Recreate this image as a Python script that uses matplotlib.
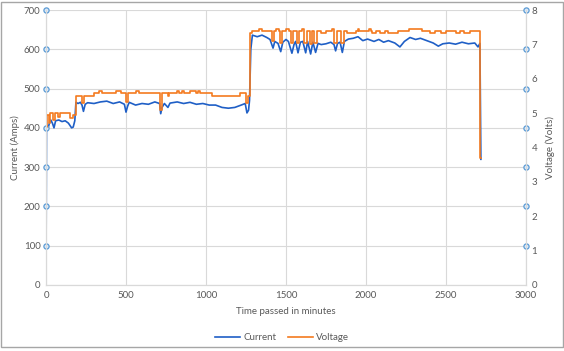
import matplotlib
matplotlib.use("Agg")
import matplotlib.pyplot as plt
from matplotlib.patches import Rectangle

# =========================
# DATA
# =========================
cur_time = [0, 3, 10, 20, 30, 40, 50, 60, 80, 100, 120, 140, 160, 170, 180,
            187, 200, 215, 225, 234, 245, 260, 300, 340, 380, 420, 460, 490,
            500, 510, 520, 560, 600, 640, 680, 710, 717, 725, 740, 762, 775,
            820, 860, 900, 940, 980, 1020, 1060, 1100, 1140, 1180, 1220, 1245,
            1256, 1266, 1272, 1280, 1290, 1320, 1350, 1380, 1400, 1419, 1430,
            1450, 1467, 1480, 1500, 1515, 1537, 1550, 1560, 1575, 1590, 1605,
            1623, 1635, 1654, 1668, 1685, 1700, 1720, 1750, 1780, 1800, 1810,
            1822, 1838, 1852, 1865, 1890, 1920, 1950, 1980, 2010, 2050, 2080,
            2110, 2140, 2180, 2212, 2240, 2275, 2310, 2340, 2380, 2420, 2452,
            2480, 2520, 2560, 2600, 2640, 2680, 2700, 2712, 2718]
current = [0, 400, 395, 410, 420, 412, 400, 418, 420, 416, 418, 412, 400, 402, 418,
           465, 462, 465, 458, 442, 460, 464, 462, 466, 468, 462, 466, 460,
           440, 455, 465, 458, 462, 460, 466, 462, 436, 452, 462, 452, 463,
           466, 462, 465, 460, 462, 458, 458, 452, 450, 452, 458, 462,
           438, 445, 470, 600, 636, 632, 636, 630, 625, 603, 620,
           615, 594, 618, 625, 620, 590, 612, 620, 591, 618, 620,
           591, 620, 588, 618, 592, 615, 612, 614, 618, 612, 596,
           615, 618, 592, 620, 626, 628, 632, 622, 626, 620, 625,
           618, 622, 616, 606, 620, 630, 625, 628, 622, 616, 608,
           614, 616, 613, 618, 614, 616, 606, 615, 320]

volt_time = [0, 3, 8, 20, 28, 45, 55, 75, 90, 150, 170, 185, 205, 225, 240,
             300, 330, 350, 440, 470, 498, 512, 560, 580, 712, 728, 760, 770,
             820, 830, 850, 860, 900, 940, 950, 960, 1035, 1210, 1248, 1262,
             1276, 1290, 1330, 1350, 1410, 1428, 1440, 1455, 1460, 1475, 1500,
             1520, 1530, 1545, 1568, 1582, 1600, 1615, 1630, 1648, 1662, 1678,
             1692, 1720, 1750, 1790, 1802, 1818, 1845, 1860, 1880, 1940, 1950,
             1958, 2020, 2030, 2040, 2060, 2090, 2120, 2140, 2200, 2270, 2350,
             2400, 2430, 2470, 2500, 2560, 2590, 2610, 2650, 2715, 2718]
voltage = [0, 4.6, 4.95, 4.7, 5.0, 4.8, 5.0, 4.9, 5.0, 4.85, 4.95, 5.5, 5.5, 5.3, 5.5,
           5.6, 5.64, 5.6, 5.64, 5.6, 5.33, 5.6, 5.64, 5.6, 5.1, 5.6, 5.5, 5.6,
           5.64, 5.6, 5.64, 5.6, 5.64, 5.6, 5.64, 5.6, 5.5, 5.6, 5.3, 5.5,
           7.33, 7.38, 7.45, 7.38, 7.1, 7.38, 7.45, 7.38, 7.05, 7.38, 7.45,
           7.38, 7.05, 7.38, 7.05, 7.38, 7.45, 7.05, 7.38, 7.0, 7.38, 7.05,
           7.38, 7.34, 7.38, 7.45, 7.05, 7.38, 7.05, 7.38, 7.33, 7.38, 7.45,
           7.38, 7.45, 7.38, 7.32, 7.38, 7.32, 7.38, 7.32, 7.38, 7.45, 7.38,
           7.32, 7.38, 7.32, 7.38, 7.32, 7.38, 7.32, 7.38, 3.7, 3.7]

x_ticks = [0, 500, 1000, 1500, 2000, 2500, 3000]
left_ticks = [0, 100, 200, 300, 400, 500, 600, 700]
right_ticks = [0, 1, 2, 3, 4, 5, 6, 7, 8]

# =========================
# FIGURE
# =========================
plt.rcParams['font.family'] = ['Lato', 'DejaVu Sans']
TXT = '#595959'
GRID = '#d9d9d9'
BLUE = '#1f5fc6'
ORANGE = '#f47a1f'

fig = plt.figure(figsize=(5.64, 3.51), dpi=100)
ax = fig.add_axes([46 / 564, 66 / 351, 480 / 564, 275 / 351])
ax2 = ax.twinx()

ax.plot(cur_time, current, color=BLUE, lw=1.2, label='Current')
ax2.plot(volt_time, voltage, color=ORANGE, lw=1.2, drawstyle='steps-post', label='Voltage')

ax.set_xlim(0, 3000)
ax.set_ylim(0, 700)
ax2.set_ylim(0, 8)
ax.set_xticks(x_ticks)
ax.set_yticks(left_ticks)
ax2.set_yticks(right_ticks)

ax.grid(True, color=GRID, lw=0.8)
ax.set_axisbelow(True)
for a in (ax, ax2):
    a.tick_params(length=0, labelsize=7, colors=TXT, pad=4)
    a.spines['top'].set_visible(False)
    for side in ('left', 'right', 'bottom'):
        a.spines[side].set_color(GRID)

ax.set_xlabel('Time passed in minutes', fontsize=7, color=TXT, labelpad=5)
ax.set_ylabel('Current (Amps)', fontsize=7, color=TXT, labelpad=3)
ax2.set_ylabel('Voltage (Volts)', fontsize=7, color=TXT, rotation=90, labelpad=6)

# selection handles on the axes
handle_y = left_ticks[1:]
ax.scatter([0] * len(handle_y), handle_y, s=14, facecolor='#dbe9f7', edgecolor='#5b9bd5',
           lw=0.9, zorder=5, clip_on=False)
ax.scatter([3000] * len(handle_y), handle_y, s=14, facecolor='#dbe9f7', edgecolor='#5b9bd5',
           lw=0.9, zorder=5, clip_on=False)

# legend
fig.legend(loc='lower center', bbox_to_anchor=(0.5, 0.0), ncol=2, frameon=False,
           fontsize=7, labelcolor=TXT, handlelength=2.6, handletextpad=0.3,
           columnspacing=1.2)

# chart area outline
fig.patches.append(Rectangle((1 / 564, 4 / 351), 562 / 564, 345 / 351, transform=fig.transFigure,
                             fill=False, edgecolor='#a6a6a6', lw=1.0))

fig.savefig('out.png', dpi=100)
